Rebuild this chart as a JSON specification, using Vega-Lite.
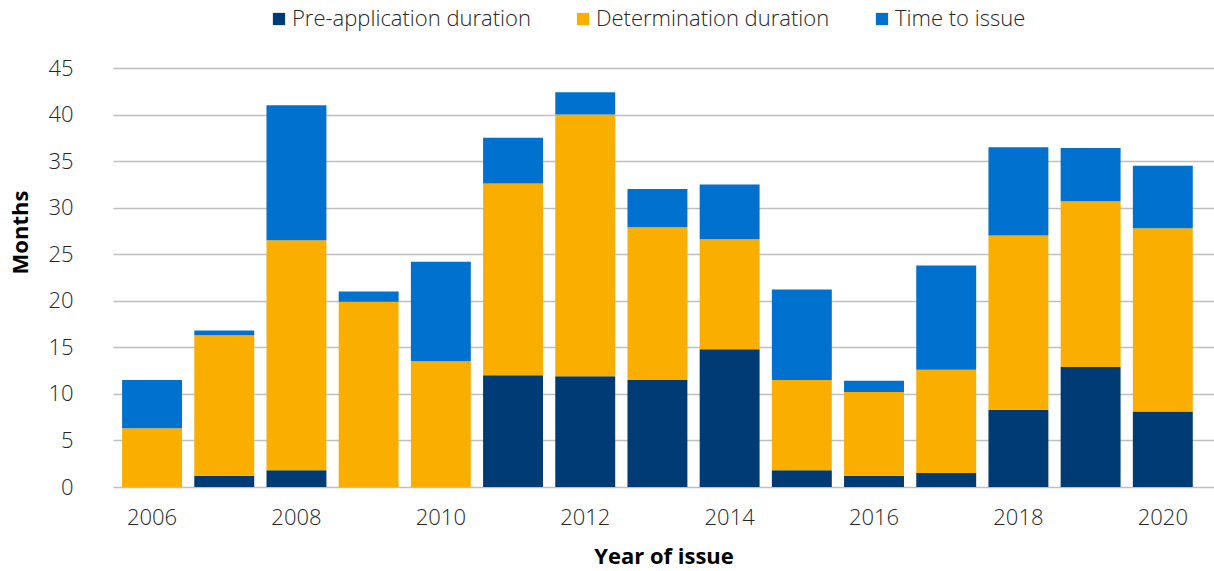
{
  "$schema": "https://vega.github.io/schema/vega-lite/v6.json",
  "width": 1101,
  "height": 419,
  "autosize": {"type": "none"},
  "padding": {"left": 113, "top": 68, "right": 0, "bottom": 84},
  "background": "white",
  "config": {
    "view": {"stroke": null},
    "font": "Open Sans"
  },
  "data": {
    "values": [
      {"year": 2006, "component": "Pre-application duration", "months": 0},
      {"year": 2006, "component": "Determination duration", "months": 6.3},
      {"year": 2006, "component": "Time to issue", "months": 5.2},
      {"year": 2007, "component": "Pre-application duration", "months": 1.2},
      {"year": 2007, "component": "Determination duration", "months": 15.1},
      {"year": 2007, "component": "Time to issue", "months": 0.5},
      {"year": 2008, "component": "Pre-application duration", "months": 1.8},
      {"year": 2008, "component": "Determination duration", "months": 24.7},
      {"year": 2008, "component": "Time to issue", "months": 14.5},
      {"year": 2009, "component": "Pre-application duration", "months": 0},
      {"year": 2009, "component": "Determination duration", "months": 19.9},
      {"year": 2009, "component": "Time to issue", "months": 1.1},
      {"year": 2010, "component": "Pre-application duration", "months": 0},
      {"year": 2010, "component": "Determination duration", "months": 13.5},
      {"year": 2010, "component": "Time to issue", "months": 10.7},
      {"year": 2011, "component": "Pre-application duration", "months": 12.0},
      {"year": 2011, "component": "Determination duration", "months": 20.6},
      {"year": 2011, "component": "Time to issue", "months": 4.9},
      {"year": 2012, "component": "Pre-application duration", "months": 11.9},
      {"year": 2012, "component": "Determination duration", "months": 28.1},
      {"year": 2012, "component": "Time to issue", "months": 2.4},
      {"year": 2013, "component": "Pre-application duration", "months": 11.5},
      {"year": 2013, "component": "Determination duration", "months": 16.4},
      {"year": 2013, "component": "Time to issue", "months": 4.1},
      {"year": 2014, "component": "Pre-application duration", "months": 14.8},
      {"year": 2014, "component": "Determination duration", "months": 11.8},
      {"year": 2014, "component": "Time to issue", "months": 5.9},
      {"year": 2015, "component": "Pre-application duration", "months": 1.8},
      {"year": 2015, "component": "Determination duration", "months": 9.7},
      {"year": 2015, "component": "Time to issue", "months": 9.7},
      {"year": 2016, "component": "Pre-application duration", "months": 1.2},
      {"year": 2016, "component": "Determination duration", "months": 9.0},
      {"year": 2016, "component": "Time to issue", "months": 1.2},
      {"year": 2017, "component": "Pre-application duration", "months": 1.5},
      {"year": 2017, "component": "Determination duration", "months": 11.1},
      {"year": 2017, "component": "Time to issue", "months": 11.2},
      {"year": 2018, "component": "Pre-application duration", "months": 8.3},
      {"year": 2018, "component": "Determination duration", "months": 18.7},
      {"year": 2018, "component": "Time to issue", "months": 9.5},
      {"year": 2019, "component": "Pre-application duration", "months": 12.9},
      {"year": 2019, "component": "Determination duration", "months": 17.8},
      {"year": 2019, "component": "Time to issue", "months": 5.7},
      {"year": 2020, "component": "Pre-application duration", "months": 8.1},
      {"year": 2020, "component": "Determination duration", "months": 19.7},
      {"year": 2020, "component": "Time to issue", "months": 6.7}
    ]
  },
  "transform": [
    {"calculate": "indexof(['Pre-application duration', 'Determination duration', 'Time to issue'], datum.component)", "as": "stackOrder"}
  ],
  "mark": {"type": "bar"},
  "encoding": {
    "x": {
      "field": "year",
      "type": "ordinal",
      "scale": {"paddingInner": 0.17, "paddingOuter": 0.21, "align": 0.3},
      "axis": {
        "values": [2006, 2008, 2010, 2012, 2014, 2016, 2018, 2020],
        "labelAngle": 0,
        "labelFontSize": 22,
        "labelFontWeight": 300,
        "labelColor": "#262626",
        "labelPadding": 20,
        "ticks": false,
        "domain": false,
        "title": "Year of issue",
        "titleFontSize": 22,
        "titleFontWeight": "bold",
        "titleColor": "#000000",
        "titlePadding": 18
      }
    },
    "y": {
      "field": "months",
      "type": "quantitative",
      "stack": "zero",
      "scale": {"domain": [0, 45], "nice": false},
      "axis": {
        "values": [0, 5, 10, 15, 20, 25, 30, 35, 40, 45],
        "labelFontSize": 22,
        "labelFontWeight": 300,
        "labelColor": "#262626",
        "labelPadding": 40,
        "ticks": false,
        "domain": false,
        "grid": true,
        "gridColor": "#BFBFBF",
        "gridWidth": 1.5,
        "title": "Months",
        "titleFontSize": 22,
        "titleFontWeight": "bold",
        "titleColor": "#000000",
        "titleX": -81,
        "titleY": 164
      }
    },
    "color": {
      "field": "component",
      "type": "nominal",
      "scale": {
        "domain": ["Pre-application duration", "Determination duration", "Time to issue"],
        "range": ["#003B75", "#F9AE00", "#0071CE"]
      },
      "legend": {
        "orient": "none",
        "legendX": 155,
        "legendY": -60,
        "direction": "horizontal",
        "title": null,
        "symbolType": "square",
        "symbolSize": 150,
        "symbolStrokeWidth": 0,
        "labelFontSize": 22,
        "labelFontWeight": 300,
        "labelColor": "#262626",
        "labelOffset": 2,
        "columnPadding": 41,
        "labelLimit": 400
      }
    },
    "order": {"field": "stackOrder", "type": "quantitative", "sort": "ascending"}
  }
}
